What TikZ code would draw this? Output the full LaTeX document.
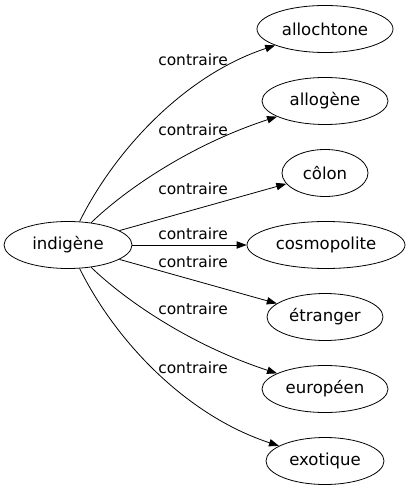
\documentclass[tikz,border=0pt]{standalone}
\usepackage{fontspec}
\setmainfont{DejaVu Sans}
\usetikzlibrary{shapes.geometric,arrows.meta}
\begin{document}
\begin{tikzpicture}[x=0.75pt,y=-0.75pt,
  word/.style={ellipse,draw,line width=0.6pt,inner sep=0pt,minimum height=35.25pt,
    font=\fontsize{12.4pt}{14pt}\selectfont},
  rel/.style={inner sep=1pt,font=\fontsize{11.6pt}{13pt}\selectfont},
  arr/.style={line width=0.6pt,-{Triangle[length=7.5pt,width=5.5pt]}}]
\useasboundingbox (0,0) rectangle (408,491);
\node[word,minimum width=96pt] (ind) at (68,245) {indigène};
\node[word,minimum width=102pt] (allo) at (325,29) {allochtone};
\node[word,minimum width=94.5pt] (allg) at (325,101) {allogène};
\node[word,minimum width=64.5pt] (colon) at (325,173) {côlon};
\node[word,minimum width=118.5pt] (cosmo) at (326,245) {cosmopolite};
\node[word,minimum width=87pt] (etr) at (325,317) {étranger};
\node[word,minimum width=94.5pt] (euro) at (325,389) {européen};
\node[word,minimum width=88.5pt] (exo) at (325,461) {exotique};
\draw[arr] (ind) .. controls (115,150) and (185,75) .. (allo);
\draw[arr] (ind) .. controls (125,190) and (190,145) .. (allg);
\draw[arr] (ind) -- (colon);
\draw[arr] (ind) -- (cosmo);
\draw[arr] (ind) -- (etr);
\draw[arr] (ind) .. controls (125,300) and (190,345) .. (euro);
\draw[arr] (ind) .. controls (115,340) and (185,415) .. (exo);
\node[rel] (l1) at (193,60) {contraire};
\node[rel] (l2) at (193,130) {contraire};
\node[rel] (l3) at (193,189) {contraire};
\node[rel] (l4) at (193,234) {contraire};
\node[rel] (l5) at (193,262) {contraire};
\node[rel] (l6) at (193,309) {contraire};
\node[rel] (l7) at (193,368) {contraire};
\end{tikzpicture}
\end{document}
